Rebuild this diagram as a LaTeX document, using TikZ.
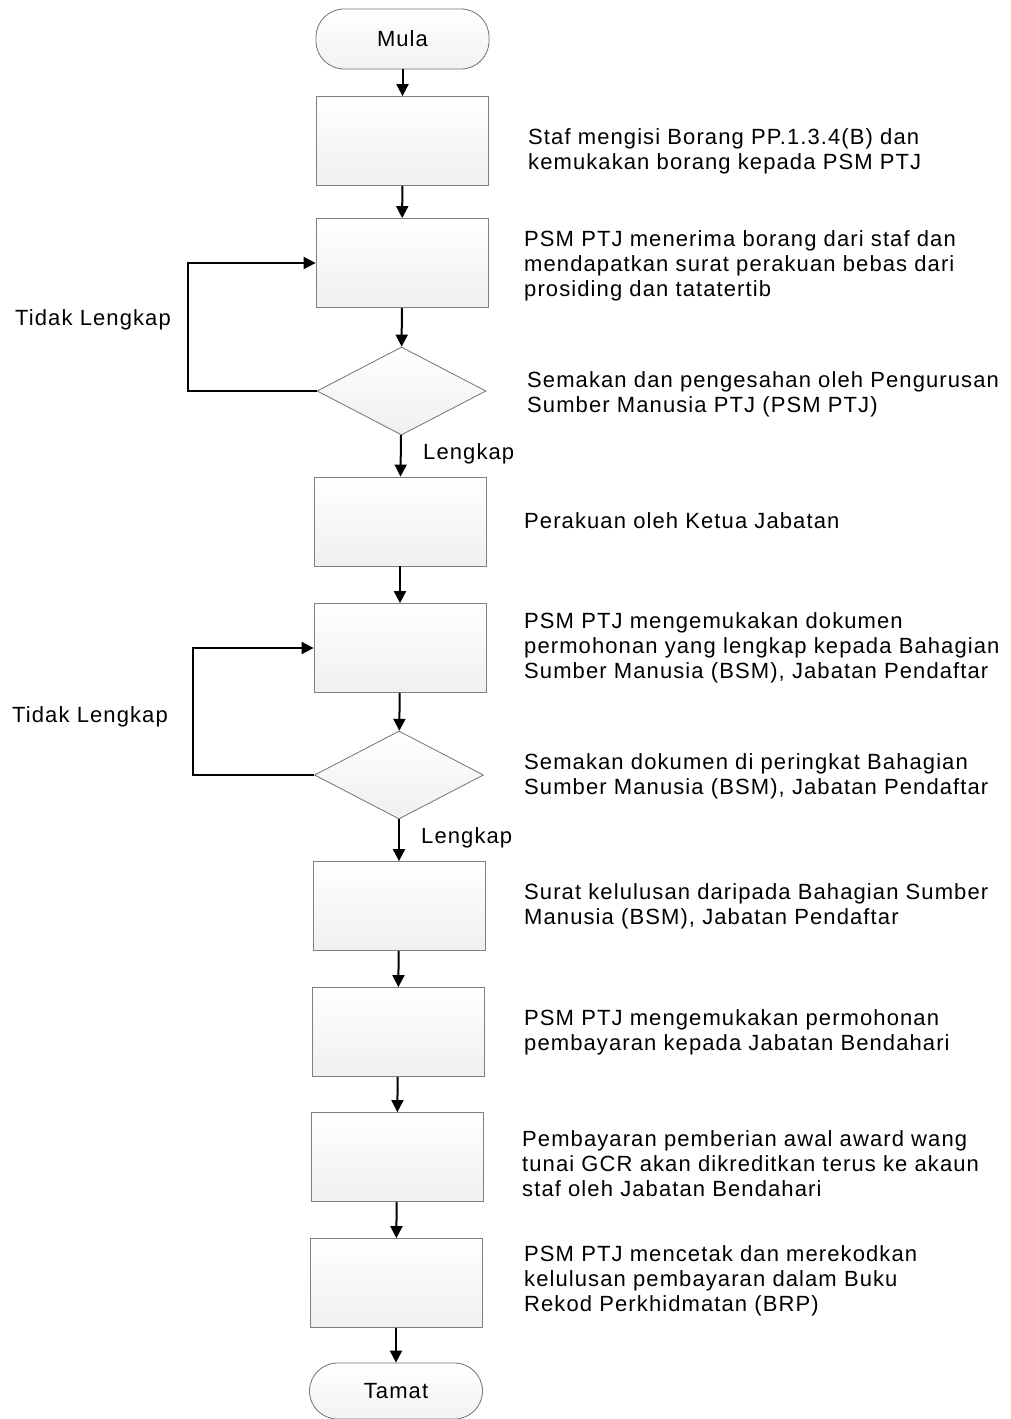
\documentclass[tikz,border=0pt]{standalone}
\usepackage{fontspec}
\setmainfont{Liberation Sans}[LetterSpace=5]
\usetikzlibrary{shapes.geometric,arrows.meta}
\tikzset{
  x=1pt,y=-1pt,
  stepbox/.style={draw=black!50,line width=0.8pt,top color=white,bottom color=black!6,minimum width=172pt,minimum height=89pt,inner sep=0pt},
  decbox/.style={diamond,draw=black!55,line width=0.8pt,top color=white,bottom color=black!6,minimum width=169pt,minimum height=88pt,inner sep=0pt},
  term/.style={draw=black!55,line width=0.8pt,top color=white,bottom color=black!5,rounded corners=28pt,minimum width=173pt,minimum height=60pt,inner sep=0pt,font=\fontsize{22}{24}\selectfont},
  desc/.style={anchor=west,align=left,inner sep=0pt,font=\fontsize{22}{25}\selectfont},
  lbl/.style={inner sep=0pt,font=\fontsize{22}{25}\selectfont},
  flow/.style={-{Triangle[length=12pt,width=12pt]},line width=2pt,black},
}
\begin{document}
\begin{tikzpicture}
\useasboundingbox (0,0) rectangle (1011,1419);
% terminals
\node[term] (mula) at (402.5,39) {Mula};
\node[term,minimum height=56pt] (tamat) at (396,1391) {Tamat};
% process boxes
\node[stepbox] (b1) at (402.5,141) {};
\node[stepbox] (b2) at (402,263) {};
\node[decbox] (d1) at (401.5,391) {};
\node[stepbox] (b3) at (400,521.5) {};
\node[stepbox] (b4) at (400,648) {};
\node[decbox] (d2) at (399,775) {};
\node[stepbox] (b5) at (399,906) {};
\node[stepbox] (b6) at (398,1032) {};
\node[stepbox] (b7) at (397,1157) {};
\node[stepbox] (b8) at (396,1283) {};
% arrows
\draw[flow] (mula) -- (b1);
\draw[flow] (b1) -- (b2);
\draw[flow] (b2) -- (d1);
\draw[flow] (d1) -- (b3);
\draw[flow] (b3) -- (b4);
\draw[flow] (b4) -- (d2);
\draw[flow] (d2) -- (b5);
\draw[flow] (b5) -- (b6);
\draw[flow] (b6) -- (b7);
\draw[flow] (b7) -- (b8);
\draw[flow] (b8) -- (tamat);
% loops
\coordinate (l1) at (188,391);
\coordinate (l2) at (193,775);
\draw[flow] (d1.west) -- (l1) |- (b2.west);
\draw[flow] (d2.west) -- (l2) |- (b4.west);
% loop labels
\node[lbl,anchor=west] (t1) at (15,320) {Tidak Lengkap};
\node[lbl,anchor=west] (t2) at (12,717) {Tidak Lengkap};
\node[lbl,anchor=west] (g1) at (423,454) {Lengkap};
\node[lbl,anchor=west] (g2) at (421,838) {Lengkap};
% descriptions
\node[desc] (x1) at (528,151) {Staf mengisi Borang PP.1.3.4(B) dan\\kemukakan borang kepada PSM PTJ};
\node[desc] (x2) at (524,266) {PSM PTJ menerima borang dari staf dan\\mendapatkan surat perakuan bebas dari\\prosiding dan tatatertib};
\node[desc] (x3) at (527,394) {Semakan dan pengesahan oleh Pengurusan\\Sumber Manusia PTJ (PSM PTJ)};
\node[desc] (x4) at (524,521) {Perakuan oleh Ketua Jabatan};
\node[desc] (x5) at (524,648) {PSM PTJ mengemukakan dokumen\\permohonan yang lengkap kepada Bahagian\\Sumber Manusia (BSM), Jabatan Pendaftar};
\node[desc] (x6) at (524,776) {Semakan dokumen di peringkat Bahagian\\Sumber Manusia (BSM), Jabatan Pendaftar};
\node[desc] (x7) at (524,906) {Surat kelulusan daripada Bahagian Sumber\\Manusia (BSM), Jabatan Pendaftar};
\node[desc] (x8) at (524,1032) {PSM PTJ mengemukakan permohonan\\pembayaran kepada Jabatan Bendahari};
\node[desc] (x9) at (522,1164) {Pembayaran pemberian awal award wang\\tunai GCR akan dikreditkan terus ke akaun\\staf oleh Jabatan Bendahari};
\node[desc] (x10) at (524,1281) {PSM PTJ mencetak dan merekodkan\\kelulusan pembayaran dalam Buku\\Rekod Perkhidmatan (BRP)};
\end{tikzpicture}
\end{document}
